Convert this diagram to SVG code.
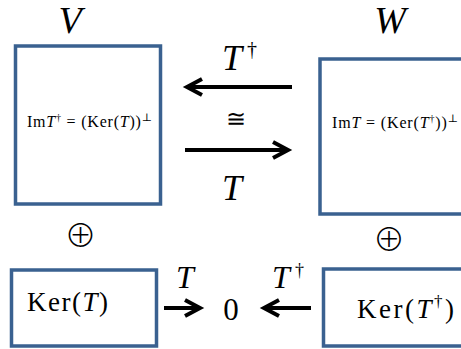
<svg xmlns="http://www.w3.org/2000/svg" width="461" height="349" viewBox="0 0 461 349">
<defs>
<style>
.box{fill:#fff;stroke:#3A6190;stroke-width:3.5}
.t{font-family:"Liberation Serif","DejaVu Serif",serif;fill:#000}
.i{font-style:italic}
.op{font-family:"Noto Sans CJK JP","Noto Sans CJK SC",sans-serif;font-weight:300;font-size:32px;fill:#000}
.ar{stroke:#000;stroke-width:4;fill:none}
</style>
<marker id="head" markerUnits="userSpaceOnUse" viewBox="-20 -12 24 24" markerWidth="24" markerHeight="24" refX="0" refY="0" orient="auto" overflow="visible">
<path d="M-15,-8 L0,0 L-15,8" fill="none" stroke="#000" stroke-width="4" stroke-linejoin="miter"/>
</marker>
</defs>
<rect width="461" height="349" fill="#fff"/>
<g id="V">
<text class="t i" x="70" y="33" font-size="38" text-anchor="middle">V</text>
<rect class="box" x="15.5" y="46" width="145" height="158"/>
<text class="t" x="27" y="127" font-size="16" textLength="125">Im<tspan class="i">T</tspan><tspan font-size="10" dy="-6">†</tspan><tspan dy="6"> = (Ker(</tspan><tspan class="i">T</tspan>))<tspan font-size="11" dy="-6">⊥</tspan></text>
</g>
<g id="W">
<text class="t i" x="390" y="33" font-size="38" text-anchor="middle">W</text>
<rect class="box" x="320" y="59" width="160" height="155"/>
<text class="t" x="332" y="128" font-size="16" textLength="126">Im<tspan class="i">T</tspan> = (Ker(<tspan class="i">T</tspan><tspan font-size="10" dy="-6">†</tspan><tspan dy="6">))</tspan><tspan font-size="11" dy="-6">⊥</tspan></text>
</g>
<g id="oplus1"><text class="op" x="80.5" y="247" text-anchor="middle">⊕</text></g>
<g id="oplus2"><text class="op" x="389" y="251" text-anchor="middle">⊕</text></g>
<g id="KerT">
<rect class="box" x="11.5" y="270" width="145" height="76"/>
<text class="t" x="27" y="311" font-size="27" textLength="81">Ker(<tspan class="i">T</tspan>)</text>
</g>
<g id="KerTd">
<rect class="box" x="323.5" y="269" width="160" height="77"/>
<text class="t" x="357" y="318" font-size="27" textLength="97">Ker(<tspan class="i">T</tspan><tspan font-size="17" dy="-11">†</tspan><tspan dy="11">)</tspan></text>
</g>
<g id="zero"><text class="t" x="231" y="320" font-size="31" text-anchor="middle">0</text></g>
<g id="connectors">
<line class="ar" x1="292" y1="87" x2="187" y2="87" marker-end="url(#head)"/>
<line class="ar" x1="185" y1="150" x2="288" y2="150" marker-end="url(#head)"/>
<line class="ar" x1="164" y1="308" x2="200" y2="308" marker-end="url(#head)"/>
<line class="ar" x1="311" y1="308" x2="264" y2="308" marker-end="url(#head)"/>
</g>
<g id="labels">
<text class="t i" x="222" y="70" font-size="36">T</text>
<text class="t" x="247" y="56" font-size="20">†</text>
<text class="t" x="236" y="127" font-size="24" text-anchor="middle">≅</text>
<text class="t i" x="222" y="200" font-size="36">T</text>
<text class="t i" x="176" y="288" font-size="32">T</text>
<text class="t i" x="272" y="288" font-size="32">T</text>
<text class="t" x="295" y="276" font-size="18">†</text>
</g>
</svg>
